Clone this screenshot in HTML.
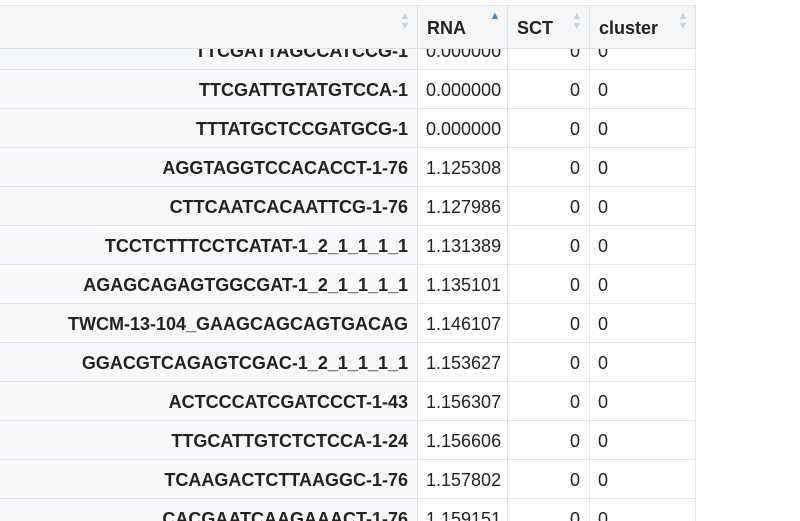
<!DOCTYPE html>
<html><head><meta charset="utf-8"><style>
html,body{margin:0;width:800px;height:521px;overflow:hidden}
body{background:#fff;font-family:"Liberation Sans",sans-serif;position:relative}
.hdr{position:absolute;left:0;top:5px;width:696px;height:42px;background:#f5f6f8;border-top:1px solid #e3e5e8;border-bottom:1px solid #dcdfe3;z-index:2}
.hc{position:absolute;top:0;height:42px;border-right:1px solid #e0e2e6;box-sizing:border-box;font-weight:bold;font-size:18px;color:#222;line-height:44px;padding-left:9px}
.sort{position:absolute;right:6px;top:5px;width:12px;font-size:11px;line-height:10px;color:#cdd0d4;text-align:center}
.row{position:absolute;left:0;width:696px;height:39px;border-bottom:1px solid #e3e5e8;box-sizing:border-box;font-size:18px;color:#222}
.c{position:absolute;top:0;height:38px;line-height:40px;box-sizing:border-box;border-right:1px solid #e3e5e8;white-space:nowrap}
.c0{left:0;width:418px;background:#f7f8fa;text-align:right;padding-right:9px;font-weight:bold}
.c1{left:418px;width:90px;padding-left:8px}
.c2{left:508px;width:82px;text-align:right;padding-right:9px}
.c3{left:590px;width:106px;padding-left:8px}
</style></head><body>
<div class="hdr">
<div class="hc" style="left:0;width:418px"><span class="sort">▲<br>▼</span></div>
<div class="hc" style="left:418px;width:90px">RNA<span class="sort" style="color:#3a8fdc">▲</span></div>
<div class="hc" style="left:508px;width:82px">SCT<span class="sort">▲<br>▼</span></div>
<div class="hc" style="left:590px;width:106px">cluster<span class="sort">▲<br>▼</span></div>
</div>
<div id="rows"></div>
<script>
const names=["TTCGATTAGCCATCCG-1","TTCGATTGTATGTCCA-1","TTTATGCTCCGATGCG-1","AGGTAGGTCCACACCT-1-76","CTTCAATCACAATTCG-1-76","TCCTCTTTCCTCATAT-1_2_1_1_1_1","AGAGCAGAGTGGCGAT-1_2_1_1_1_1","TWCM-13-104_GAAGCAGCAGTGACAG","GGACGTCAGAGTCGAC-1_2_1_1_1_1","ACTCCCATCGATCCCT-1-43","TTGCATTGTCTCTCCA-1-24","TCAAGACTCTTAAGGC-1-76","CACGAATCAAGAAACT-1-76"];
const rna=["0.000000","0.000000","0.000000","1.125308","1.127986","1.131389","1.135101","1.146107","1.153627","1.156307","1.156606","1.157802","1.159151"];
const sct=[0,0,0,0,0,0,0,0,0,0,0,0,0];
const cluster=[0,0,0,0,0,0,0,0,0,0,0,0,0];
const host=document.getElementById('rows');
names.forEach((n,i)=>{
 const r=document.createElement('div');
 r.className='row';r.style.top=(31+i*39)+'px';
 
 
 r.innerHTML='<div class="c c0">'+n+'</div><div class="c c1">'+rna[i]+'</div><div class="c c2">'+sct[i]+'</div><div class="c c3">'+cluster[i]+'</div>';
 host.appendChild(r);
});
</script>
</body></html>
